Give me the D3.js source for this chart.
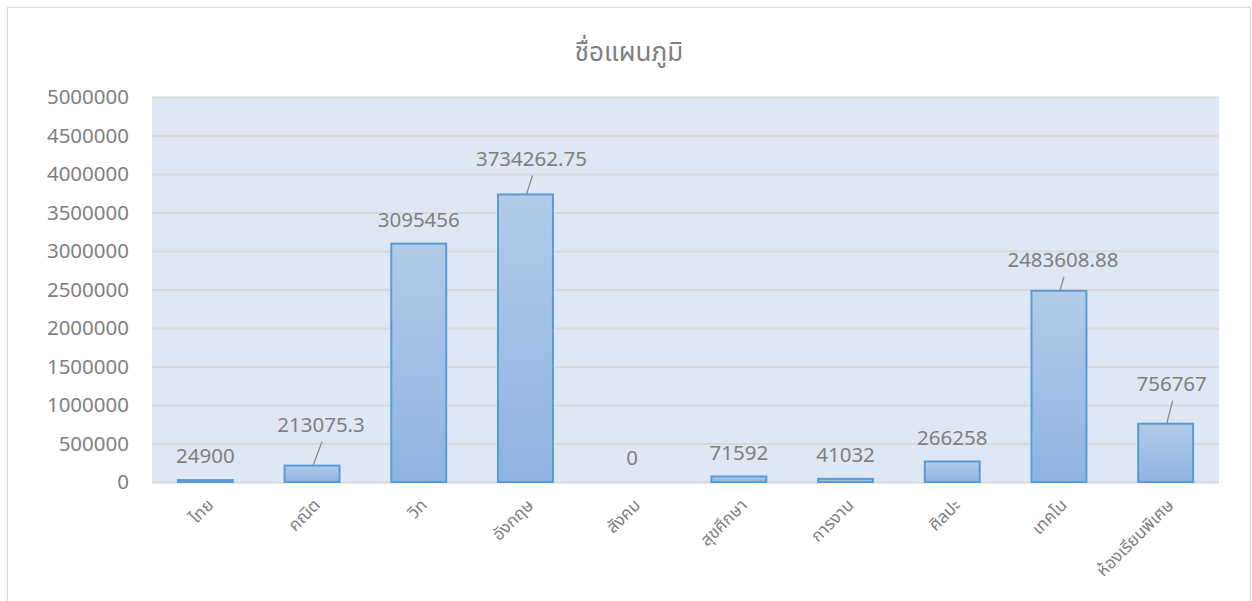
<!DOCTYPE html>
<html>
<head>
<meta charset="utf-8">
<script src="https://cdn.jsdelivr.net/npm/d3@7"></script>
<style>
  body { margin: 0; background: #fff; }
  text { font-family: "Noto Sans", "Noto Sans Thai", "DejaVu Sans", sans-serif; fill: #7f7f7f; }
</style>
</head>
<body>
<svg id="chart" width="1252" height="601"></svg>
<script>
const categories = ["ไทย", "คณิต", "วิท", "อังกฤษ", "สังคม", "สุขศึกษา", "การงาน", "ศิลปะ", "เทคโน", "ห้องเรียนพิเศษ"];
const values = [24900, 213075.3, 3095456, 3734262.75, 0, 71592, 41032, 266258, 2483608.88, 756767];
const labels = ["24900", "213075.3", "3095456", "3734262.75", "0", "71592", "41032", "266258", "2483608.88", "756767"];
const yTicks = [0, 500000, 1000000, 1500000, 2000000, 2500000, 3000000, 3500000, 4000000, 4500000, 5000000];
const title = "ชื่อแผนภูมิ";

// labels that were dragged away from their bar (px offsets, get a leader line)
const labelNudge = { 1: [9, -17], 3: [6, -12], 8: [4, -7], 9: [6, -16] };

const plotLeft = 152, plotRight = 1219, plotTop = 97, plotBottom = 482;

const svg = d3.select("#chart");

// chart area border
svg.append("rect")
    .attr("x", 7.5).attr("y", 7.5)
    .attr("width", 1243).attr("height", 620)
    .attr("fill", "#fff")
    .attr("stroke", "#d9d9d9");

const defs = svg.append("defs");
const grad = defs.append("linearGradient")
    .attr("id", "barFill")
    .attr("x1", 0).attr("y1", 0).attr("x2", 0).attr("y2", 1);
grad.append("stop").attr("offset", "0%").attr("stop-color", "#b1cbe9");
grad.append("stop").attr("offset", "100%").attr("stop-color", "#8fb4e2");

const xScale = d3.scaleBand()
    .domain(categories)
    .range([plotLeft, plotRight])
    .paddingInner(0.485)
    .paddingOuter(0.2425);

const yScale = d3.scaleLinear()
    .domain([0, 5000000])
    .range([plotBottom, plotTop]);

// plot background
svg.append("rect")
    .attr("x", plotLeft).attr("y", plotTop)
    .attr("width", plotRight - plotLeft).attr("height", plotBottom - plotTop)
    .attr("fill", "#dde8f4");

// gridlines
svg.append("g")
    .attr("transform", `translate(${plotLeft},0)`)
    .call(d3.axisLeft(yScale).tickValues(yTicks).tickSize(-(plotRight - plotLeft)).tickFormat(""))
    .call(g => g.select(".domain").remove())
    .call(g => g.selectAll("line").attr("stroke", "#d9d9d9").attr("stroke-width", 2));

// y tick labels
svg.append("g")
    .attr("transform", `translate(${plotLeft},0)`)
    .call(d3.axisLeft(yScale).tickValues(yTicks).tickSize(0).tickPadding(23).tickFormat(d3.format("d")))
    .call(g => g.select(".domain").remove())
    .call(g => g.selectAll("text").attr("font-size", 20.5).attr("fill", "#7f7f7f"));

// bars
svg.append("g")
    .selectAll("rect")
    .data(values)
    .enter()
    .append("rect")
    .attr("x", (d, i) => xScale(categories[i]))
    .attr("y", d => yScale(d))
    .attr("width", xScale.bandwidth())
    .attr("height", d => plotBottom - yScale(d))
    .attr("fill", "url(#barFill)")
    .attr("stroke", "#5b9bd5")
    .attr("stroke-width", 2)
    .attr("display", d => d > 0 ? null : "none");

// data labels
const cx = i => xScale(categories[i]) + xScale.bandwidth() / 2;
const lx = i => cx(i) + (labelNudge[i] ? labelNudge[i][0] : 0);
const ly = i => yScale(values[i]) - 24 + (labelNudge[i] ? labelNudge[i][1] : 0);

const nudged = Object.keys(labelNudge).map(Number);

svg.append("g")
    .selectAll("line")
    .data(nudged)
    .enter()
    .append("line")
    .attr("x1", i => lx(i) + 1)
    .attr("y1", i => ly(i) + 17)
    .attr("x2", i => cx(i) + 1)
    .attr("y2", i => yScale(values[i]))
    .attr("stroke", "#8c8c8c")
    .attr("stroke-width", 1.3);

svg.append("g")
    .selectAll("text")
    .data(values)
    .enter()
    .append("text")
    .attr("x", (d, i) => lx(i))
    .attr("y", (d, i) => ly(i))
    .attr("dy", "0.36em")
    .attr("text-anchor", "middle")
    .attr("font-size", 20.5)
    .text((d, i) => labels[i]);

// category labels
svg.append("g")
    .selectAll("text")
    .data(categories)
    .enter()
    .append("text")
    .attr("transform", (d, i) => `translate(${cx(i) + 5},${502}) rotate(-45)`)
    .attr("dy", "0.35em")
    .attr("text-anchor", "end")
    .attr("font-size", 17)
    .text(d => d);

// title
svg.append("text")
    .attr("x", 629)
    .attr("y", 61)
    .attr("text-anchor", "middle")
    .attr("font-size", 26)
    .text(title);
</script>
</body>
</html>
